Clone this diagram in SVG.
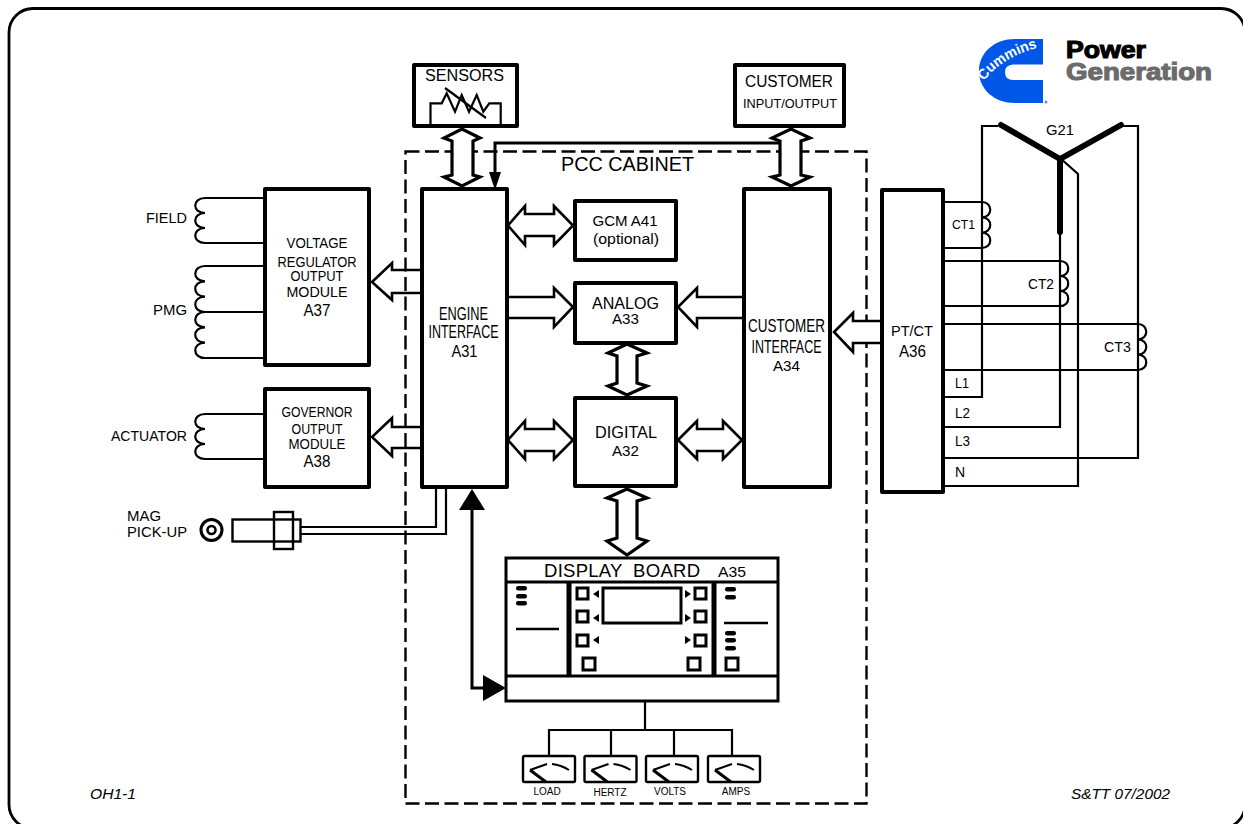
<svg xmlns="http://www.w3.org/2000/svg" width="1243" height="824" viewBox="0 0 1243 824">
<style>
text{font-family:"Liberation Sans",Arial,sans-serif;fill:#000}
.m{text-anchor:middle}
.b{fill:#fff;stroke:#000;stroke-width:4;stroke-linejoin:round}
.w{fill:none;stroke:#000;stroke-width:2.2}
.a{fill:#fff;stroke:#000;stroke-width:2.6;stroke-linejoin:miter}
.v{fill:#fff;stroke:#000;stroke-width:3.2;stroke-linejoin:miter}
.o{fill:none;stroke:#000;stroke-width:2.6;stroke-linejoin:miter}
.t{fill:none;stroke:#000;stroke-width:3}
.s{fill:#fff;stroke:#000;stroke-width:3}
.p{fill:#000}
</style>
<defs>
<g id="meter">
<rect x="0" y="0" width="52" height="26" rx="1.5" fill="#fff" stroke="#000" stroke-width="2.4"/>
<path d="M7 14L24 8" fill="none" stroke="#000" stroke-width="2"/>
<path d="M29 8Q38 9 46 14" fill="none" stroke="#000" stroke-width="2"/>
<path d="M7 14L23 26" fill="none" stroke="#000" stroke-width="3"/>
</g>
<rect id="pill" x="0" y="0" width="11" height="4.4" rx="2.2" fill="#000"/>
</defs>
<rect id="frame" x="9" y="8.500" width="1236" height="820" rx="24" fill="#fff" stroke="#000" stroke-width="2.800"/>
<rect id="cabinet" x="405.500" y="151.500" width="461" height="652" fill="none" stroke="#000" stroke-width="2.4" stroke-dasharray="14 5.500"/>

<g id="logo">
<path d="M1043 39H1015C995 39 979 52 979 71C979 90 995 103 1015 103H1043V80H1013Q1005 80 1005 72Q1005 65 1013 64.500H1043Z" fill="#0057e8"/>
<path id="cmPath" d="M984 81Q1003 56 1041 47" fill="none"/>
<text font-size="14.500" font-weight="700" style="fill:#fff"><textPath href="#cmPath" textLength="64" lengthAdjust="spacingAndGlyphs">Cummins</textPath></text>
<circle cx="1046" cy="102" r="1.500" fill="#5a8cf0"/>
<text x="1066" y="58" font-size="23" font-weight="700" textLength="80" lengthAdjust="spacingAndGlyphs" style="stroke:#000;stroke-width:1.1">Power</text>
<text x="1066" y="80" font-size="23" font-weight="700" textLength="146" lengthAdjust="spacingAndGlyphs" style="fill:#6b6b6b;stroke:#6b6b6b;stroke-width:1.1">Generation</text>
</g>

<g id="connectors">
<path class="w" d="M263 198H205c-13 0-13 15 0 15c-13 0-13 15 0 15c-13 0-13 15 0 15H263"/>
<path class="w" d="M263 266H205c-13 0-13 15.300 0 15.300c-13 0-13 15.300 0 15.300c-13 0-13 15.400 0 15.400H263M205 312c-13 0-13 15.300 0 15.300c-13 0-13 15.300 0 15.300c-13 0-13 15.400 0 15.400H263"/>
<path class="w" d="M263 414H205c-13 0-13 15 0 15c-13 0-13 15 0 15c-13 0-13 15 0 15H263"/>
<path class="o" d="M420 270H392V263L372 282L392 300V293H420"/>
<path class="o" d="M420 427H392V418L372 437L392 456V448H420"/>
<path class="w" d="M301 527H436V489M301 534H446V489" stroke-width="2.4"/>
<path class="v" d="M462 129L444 138L452 141V175L444 177L462 186L480 177L473 175V141L480 138Z"/>
<path class="v" d="M791 129L772 138L780 141V175L772 177L791 186L810 177L801 175V141L810 138Z"/>
<path class="t" d="M780 143H495V173"/>
<path class="p" d="M489 172H501L495 190Z"/>
<path class="a" d="M508 225.500L525 206V214H554V206L573 225.500L554 245V236H525V245Z"/>
<path class="a" d="M509 297H554V288L573 307L554 327V318H509"/>
<path class="a" d="M742 297H697V288L678 307L697 327V318H742"/>
<path class="v" d="M627 344L608 353L617 356V383L608 386L627 395L647 386L637 383V356L647 353Z"/>
<path class="a" d="M508 440L525 421V429H554V421L573 440L554 459V451H525V459Z"/>
<path class="a" d="M678 440L697 421V429H723V421L742 440L723 459V451H697V459Z"/>
<path class="v" d="M627 489L607 498L617 501V538L607 541L627 555L647 541L637 538V501L647 498Z"/>
<path class="a" d="M880 321H853V313L834 332L853 352V343H880"/>
<path class="t" d="M472 505V688H490"/>
<path class="p" d="M472 489L485 510H459Z"/>
<path class="p" d="M506 688L483 675V701Z"/>
<path class="w" d="M645 701V730M549 756V730H732V756M611 730V756M674 730V756"/>
<g id="wiring">
<path class="w" d="M998 126H982V397H945"/>
<path class="w" d="M1121 126H1138V458H945"/>
<path class="w" d="M1060 232V427H945"/>
<path class="w" d="M1060 158L1078 174V486H945"/>
<path class="w" d="M945 202H982c11 0 11 15.300 0 15.300c11 0 11 15.300 0 15.300c11 0 11 15.400 0 15.400H945"/>
<path class="w" d="M945 261H1060c11 0 11 15 0 15c11 0 11 15 0 15c11 0 11 15 0 15H945"/>
<path class="w" d="M945 324H1138c11 0 11 15.300 0 15.300c11 0 11 15.300 0 15.300c11 0 11 15.400 0 15.400H945"/>
<path d="M1001 125L1060 159L1121 125M1060 159V232" fill="none" stroke="#000" stroke-width="6" stroke-linecap="round" stroke-linejoin="round"/>
</g>
</g>

<g id="A37"><rect class="b" x="265" y="189" width="104" height="176"/>
<text class="m" x="317" y="248" font-size="15" textLength="61" lengthAdjust="spacingAndGlyphs">VOLTAGE</text>
<text class="m" x="317" y="267" font-size="15.500" textLength="79" lengthAdjust="spacingAndGlyphs">REGULATOR</text>
<text class="m" x="317" y="281" font-size="15" textLength="53" lengthAdjust="spacingAndGlyphs">OUTPUT</text>
<text class="m" x="317" y="297" font-size="15" textLength="61" lengthAdjust="spacingAndGlyphs">MODULE</text>
<text class="m" x="317" y="316" font-size="16.500" textLength="27" lengthAdjust="spacingAndGlyphs">A37</text></g>
<g id="A38"><rect class="b" x="265" y="389" width="104" height="98"/>
<text class="m" x="317" y="417" font-size="14" textLength="71" lengthAdjust="spacingAndGlyphs">GOVERNOR</text>
<text class="m" x="317" y="434" font-size="14" textLength="51" lengthAdjust="spacingAndGlyphs">OUTPUT</text>
<text class="m" x="317" y="449" font-size="14" textLength="57" lengthAdjust="spacingAndGlyphs">MODULE</text>
<text class="m" x="317" y="467" font-size="16" textLength="27" lengthAdjust="spacingAndGlyphs">A38</text></g>
<g id="A31"><rect class="b" x="422" y="189" width="85" height="298"/>
<text class="m" x="463.500" y="320" font-size="18" textLength="49" lengthAdjust="spacingAndGlyphs">ENGINE</text>
<text class="m" x="463.500" y="338" font-size="18" textLength="70" lengthAdjust="spacingAndGlyphs">INTERFACE</text>
<text class="m" x="464.500" y="357" font-size="16" textLength="26" lengthAdjust="spacingAndGlyphs">A31</text></g>
<g id="A41"><rect class="b" x="575" y="201" width="101" height="59"/>
<text class="m" x="625" y="226" font-size="15.500" textLength="65" lengthAdjust="spacingAndGlyphs">GCM A41</text>
<text class="m" x="626" y="244" font-size="15.500" textLength="66" lengthAdjust="spacingAndGlyphs">(optional)</text></g>
<g id="A33"><rect class="b" x="575" y="283" width="101" height="60"/>
<text class="m" x="625.500" y="309" font-size="16" textLength="67" lengthAdjust="spacingAndGlyphs">ANALOG</text>
<text class="m" x="625.500" y="324" font-size="15.500" textLength="27" lengthAdjust="spacingAndGlyphs">A33</text></g>
<g id="A32"><rect class="b" x="575" y="398" width="101" height="88"/>
<text class="m" x="626" y="438" font-size="16.500" textLength="62" lengthAdjust="spacingAndGlyphs">DIGITAL</text>
<text class="m" x="625.500" y="456" font-size="15.500" textLength="27" lengthAdjust="spacingAndGlyphs">A32</text></g>
<g id="A34"><rect class="b" x="744" y="189" width="86" height="298"/>
<text class="m" x="786.500" y="332" font-size="18" textLength="77" lengthAdjust="spacingAndGlyphs">CUSTOMER</text>
<text class="m" x="786.500" y="353" font-size="18" textLength="70" lengthAdjust="spacingAndGlyphs">INTERFACE</text>
<text class="m" x="786.500" y="371" font-size="15.500" textLength="27" lengthAdjust="spacingAndGlyphs">A34</text></g>
<g id="A36"><rect class="b" x="882" y="190" width="61" height="302"/>
<text class="m" x="912" y="336" font-size="15.500" textLength="42" lengthAdjust="spacingAndGlyphs">PT/CT</text>
<text class="m" x="912.500" y="357" font-size="16" textLength="27" lengthAdjust="spacingAndGlyphs">A36</text></g>
<g id="sensors"><rect class="b" x="414" y="65" width="103" height="61"/>
<text class="m" x="464.500" y="81" font-size="16" textLength="79" lengthAdjust="spacingAndGlyphs">SENSORS</text>
<path class="w" stroke-width="2.600" d="M430.500 124V103.300H441.700L446.700 93.300L455 111.700L461.700 95L469 111.700L476.700 95L483.300 111.700L489.300 103.300H500.700V124"/>
<path class="w" stroke-width="2.600" d="M445 88L486 118"/></g>
<g id="customer-io"><rect class="b" x="735" y="65" width="109" height="61"/>
<text class="m" x="789" y="87" font-size="16" textLength="88" lengthAdjust="spacingAndGlyphs">CUSTOMER</text>
<text class="m" x="790" y="108" font-size="13.500" textLength="94" lengthAdjust="spacingAndGlyphs">INPUT/OUTPUT</text></g>

<g id="A35">
<rect x="506" y="558" width="272" height="143" fill="#fff" stroke="#000" stroke-width="3"/>
<path d="M505 582H778M505 676H778" stroke="#000" stroke-width="3"/>
<path d="M569 582V676M714 582V676" stroke="#000" stroke-width="5"/>
<text x="544" y="577" font-size="18.500" textLength="156" xml:space="preserve">DISPLAY  BOARD</text>
<text x="718" y="577" font-size="14.500" textLength="28" lengthAdjust="spacingAndGlyphs">A35</text>
<rect class="s" x="603" y="588" width="78" height="35"/>
<g fill="none" stroke="#000" stroke-width="3">
<rect x="577" y="588" width="11" height="11"/><rect x="577" y="611" width="11" height="11"/><rect x="577" y="635" width="11" height="11"/><rect x="583" y="658" width="12" height="12"/>
<rect x="695" y="588" width="11" height="11"/><rect x="695" y="611" width="11" height="11"/><rect x="695" y="635" width="11" height="11"/><rect x="688" y="658" width="12" height="12"/><rect x="726" y="658" width="12" height="12"/>
</g>
<path class="p" d="M599 590V598L593 594ZM599 614V622L593 618ZM599 636V644L593 640ZM685 590V598L691 594ZM685 614V622L691 618ZM685 636V644L691 640Z"/>
<use href="#pill" x="516" y="586"/><use href="#pill" x="516" y="594"/><use href="#pill" x="516" y="601"/>
<use href="#pill" x="725" y="587"/><use href="#pill" x="725" y="595"/>
<use href="#pill" x="725" y="631"/><use href="#pill" x="725" y="638"/><use href="#pill" x="725" y="646"/>
<path d="M516 629H559M724 623H768" stroke="#000" stroke-width="2.400"/>
</g>
<g id="m-load"><use href="#meter" x="523" y="756"/><text class="m" x="547" y="795" font-size="10">LOAD</text></g>
<g id="m-hertz"><use href="#meter" x="584.500" y="756"/><text class="m" x="610" y="795.500" font-size="10">HERTZ</text></g>
<g id="m-volts"><use href="#meter" x="646" y="756"/><text class="m" x="670" y="795" font-size="10">VOLTS</text></g>
<g id="m-amps"><use href="#meter" x="708" y="756"/><text class="m" x="736" y="795" font-size="10">AMPS</text></g>

<g id="mag">
<circle cx="211.500" cy="530" r="10.500" fill="#fff" stroke="#000" stroke-width="3"/>
<circle cx="211.500" cy="530" r="4" fill="#fff" stroke="#000" stroke-width="2.600"/>
<rect x="232.500" y="519.500" width="68" height="22" fill="#fff" stroke="#000" stroke-width="2.400"/>
<rect x="274" y="512" width="19" height="37" fill="none" stroke="#000" stroke-width="2.400"/>
</g>
<text x="187" y="223" font-size="15" text-anchor="end" textLength="41" lengthAdjust="spacingAndGlyphs">FIELD</text>
<text x="187" y="315" font-size="15" text-anchor="end" textLength="34" lengthAdjust="spacingAndGlyphs">PMG</text>
<text x="187" y="441" font-size="15" text-anchor="end" textLength="76" lengthAdjust="spacingAndGlyphs">ACTUATOR</text>
<text x="127" y="521" font-size="15" textLength="34" lengthAdjust="spacingAndGlyphs">MAG</text>
<text x="127" y="537" font-size="15" textLength="60" lengthAdjust="spacingAndGlyphs">PICK-UP</text>
<text class="m" x="627.500" y="171" font-size="20" textLength="133" lengthAdjust="spacingAndGlyphs">PCC CABINET</text>
<text class="m" x="1060" y="135" font-size="15" textLength="28" lengthAdjust="spacingAndGlyphs">G21</text>
<text x="952" y="229" font-size="13.500" textLength="23" lengthAdjust="spacingAndGlyphs">CT1</text>
<text x="1028" y="289" font-size="14.500" textLength="26" lengthAdjust="spacingAndGlyphs">CT2</text>
<text x="1104" y="352" font-size="14.500" textLength="27" lengthAdjust="spacingAndGlyphs">CT3</text>
<text x="955" y="388" font-size="14" textLength="14" lengthAdjust="spacingAndGlyphs">L1</text>
<text x="955" y="418" font-size="14" textLength="15" lengthAdjust="spacingAndGlyphs">L2</text>
<text x="955" y="446" font-size="14" textLength="15" lengthAdjust="spacingAndGlyphs">L3</text>
<text x="955" y="477" font-size="14">N</text>
<text x="90" y="799" font-size="15" font-style="italic" textLength="46" lengthAdjust="spacingAndGlyphs">OH1-1</text>
<text x="1071" y="799" font-size="15" font-style="italic" textLength="99" lengthAdjust="spacingAndGlyphs">S&amp;TT 07/2002</text>
</svg>
